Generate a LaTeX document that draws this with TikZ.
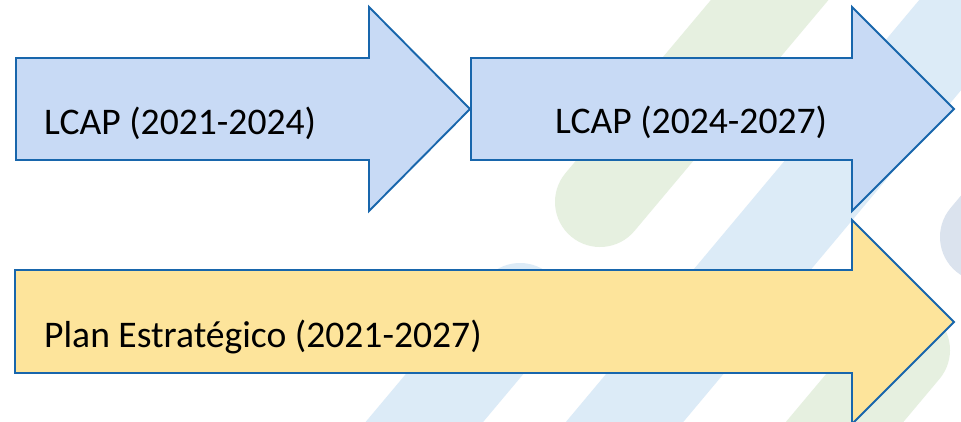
\documentclass[tikz,border=0pt]{standalone}
\usepackage{fontspec}
\setmainfont{Carlito}
\definecolor{arrowblue}{HTML}{C8DAF5}
\definecolor{arrowgold}{HTML}{FDE49B}
\definecolor{edgeblue}{HTML}{1866AC}
\definecolor{stripegreen}{HTML}{E6F0E0}
\definecolor{stripeblue}{HTML}{DCEBF7}
\definecolor{stripegrey}{HTML}{DBE3EE}
\tikzset{
  stripe/.style={line width=90pt, line cap=round},
  arrowshape/.style={draw=edgeblue, line width=1.9pt, line join=miter},
  label/.style={anchor=base west, inner sep=0pt, font=\fontsize{37.6}{45}\selectfont, text=black}
}
\begin{document}
\begin{tikzpicture}[x=1pt, y=-1pt]
\useasboundingbox (0,0) rectangle (961,421);
\begin{scope}
\clip (0,0) rectangle (961,421);
\fill[white] (0,0) rectangle (961,421);
% background stripes
\draw[stripe, stripegreen] (600,202) -- (857,-104);
\draw[stripe, stripeblue] (540,523) -- (1070,-110);
\draw[stripe, stripeblue] (520,308) -- (327,538);
\draw[stripe, stripegreen] (905,350) -- (712,580);
\draw[stripe, stripegrey] (985,237) -- (1200,-20);
% arrows
\draw[arrowshape, fill=arrowblue] (16,58) -- (369,58) -- (369,7) -- (470,109) -- (369,211) -- (369,160) -- (16,160) -- cycle;
\draw[arrowshape, fill=arrowblue] (471,58) -- (852,58) -- (852,7) -- (954,109) -- (852,211) -- (852,160) -- (471,160) -- cycle;
\draw[arrowshape, fill=arrowgold] (15,270) -- (852,270) -- (852,220) -- (954,322) -- (852,424) -- (852,373) -- (15,373) -- cycle;
\end{scope}
\node[label] (t1) at (44,134.5) {LCAP (2021-2024)};
\node[label] (t2) at (555,133.5) {LCAP (2024-2027)};
\node[label] (t3) at (44,347.5) {Plan Estratégico (2021-2027)};
\end{tikzpicture}
\end{document}
